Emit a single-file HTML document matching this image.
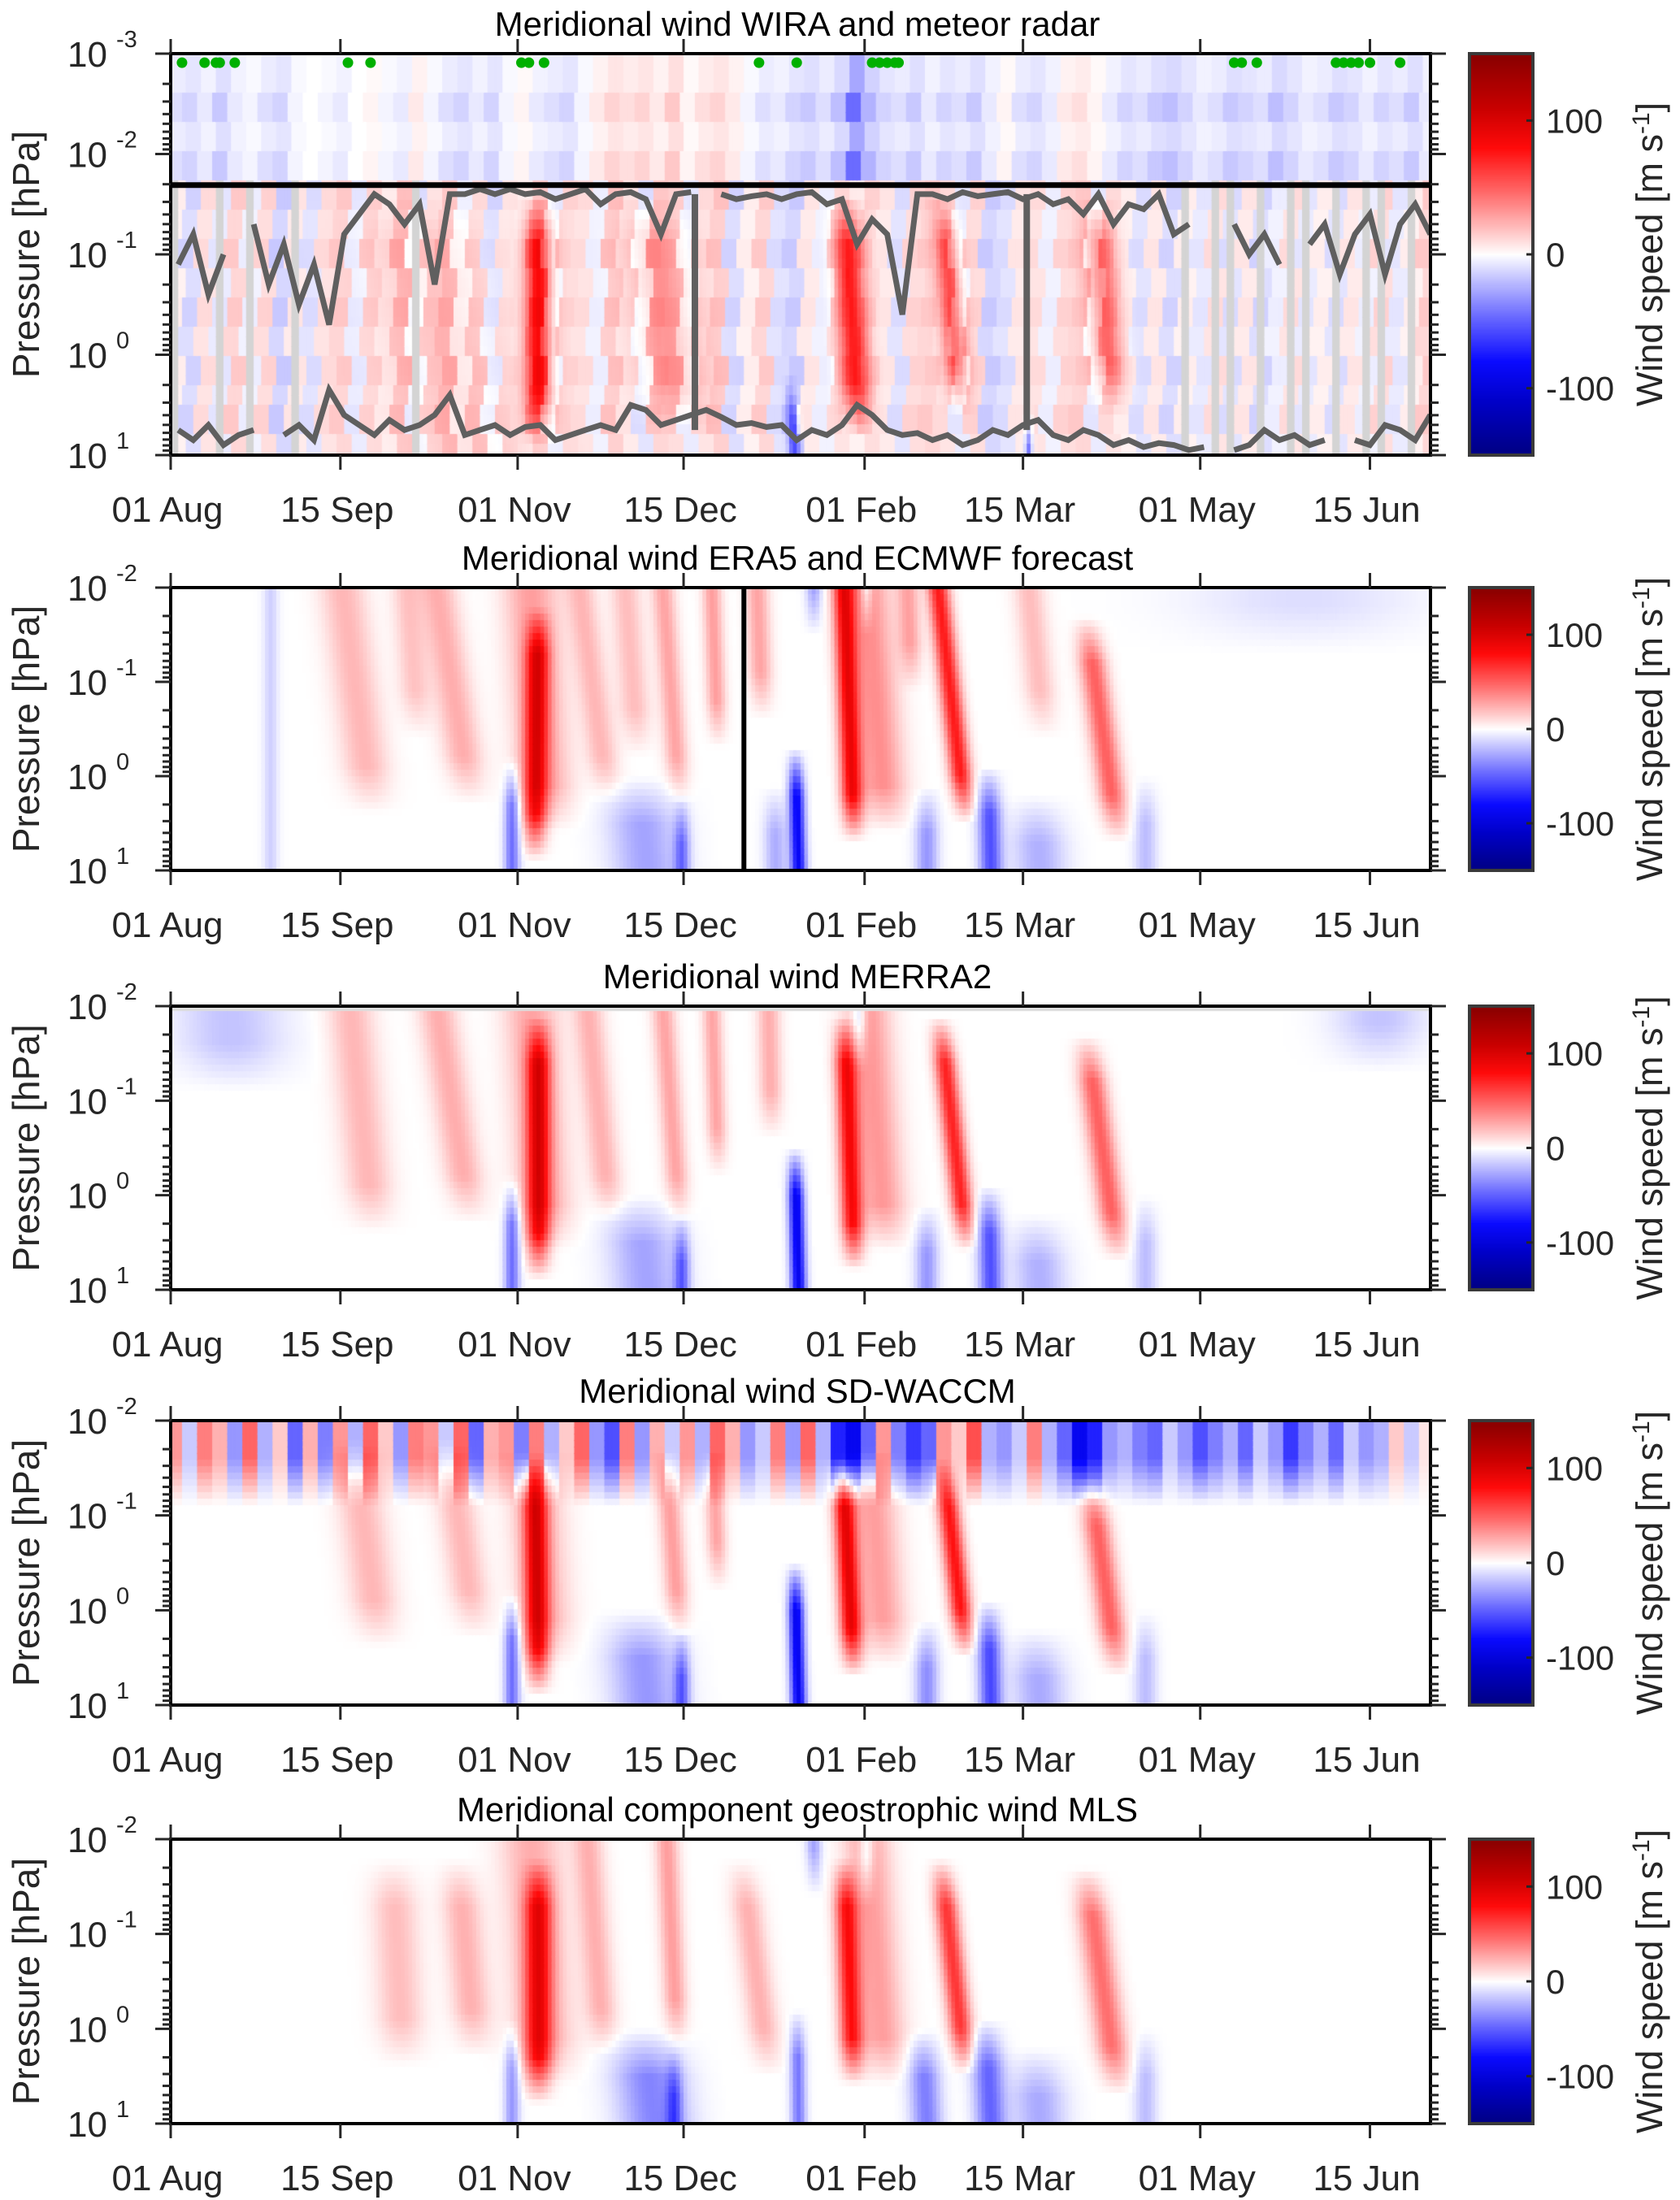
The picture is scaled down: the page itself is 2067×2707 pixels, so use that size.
<!DOCTYPE html>
<html><head><meta charset="utf-8">
<style>
html,body{margin:0;padding:0;background:#fff;}
body{width:2067px;height:2707px;position:relative;overflow:hidden;font-family:"Liberation Sans",Arial,sans-serif;}
canvas{position:absolute;}
svg{position:absolute;left:0;top:0;}
</style></head>
<body>
<canvas id="c0"></canvas>
<canvas id="c1"></canvas>
<canvas id="c2"></canvas>
<canvas id="c3"></canvas>
<canvas id="c4"></canvas>
<canvas id="cb0"></canvas>
<canvas id="cb1"></canvas>
<canvas id="cb2"></canvas>
<canvas id="cb3"></canvas>
<canvas id="cb4"></canvas>
<svg id="svg" width="2067" height="2707" xmlns="http://www.w3.org/2000/svg"></svg>
<script>
// ---- data ----
const panelTitles = ["Meridional wind WIRA and meteor radar","Meridional wind ERA5 and ECMWF forecast","Meridional wind MERRA2","Meridional wind SD-WACCM","Meridional component geostrophic wind MLS"];
const xTickLabels = ["01 Aug","15 Sep","01 Nov","15 Dec","01 Feb","15 Mar","01 May","15 Jun"];
const xTickDays = [0,45,92,136,184,226,273,318];
const cbarTicks = [100,0,-100];
// streaks: [dayAtTop(1e-2), dayAtBottom(1e1), amplitude m/s, halfwidth days, log10p top, log10p bottom]
const era5Streaks = [
 [97,96,75,3,-1.8,0.9],[95,100,30,7,-2,0.6],[178,181,85,2.8,-2,0.7],[184,190,35,6,-2,0.6],
 [203,212,75,2.8,-2,0.5],[241,252,50,3.5,-1.7,0.7],[45,55,22,6,-2,0.4],[70,82,25,5,-2,0.3],
 [62,68,18,4,-2,-0.4],[108,118,22,4,-2,0.3],[120,126,20,4,-2,-0.2],[130,136,28,3,-2,0.3],
 [143,146,30,2.5,-2,-0.3],[155,158,28,3,-2,-0.6],[195,198,28,3,-2,-0.9],[227,235,20,4,-2,-0.4],
 [90,90,-45,2,-0.2,1],[118,126,-28,9,0,1],[135,135,-40,2,0.2,1],[164,166,-85,2,-0.3,1],
 [159,160,-25,3,0.1,1],[200,200,-32,3,0.1,1],[215,217,-55,3,-0.1,1],[225,230,-24,7,0.2,1],
 [258,258,-20,3,0,1],[26,26,-14,2,-2,1],[170,170,-30,2,-2,-1.5],[184,184,-30,1.5,-2,-1.5],[300,300,-10,30,-2,-1.3]
];
const merraStreaks = [
 [97,97,78,3,-1.9,0.9],[95,100,28,7,-2,0.6],[178,181,80,2.8,-1.9,0.8],[184,190,32,6,-2,0.6],
 [203,212,72,2.8,-1.9,0.6],[241,252,50,3.5,-1.7,0.7],[47,55,22,6,-2,0.4],[70,82,25,5,-2,0.3],
 [110,118,24,4,-2,0.3],[130,136,28,3,-2,0.3],[143,146,28,2.5,-2,-0.2],[158,160,25,3,-2,-0.6],
 [90,90,-45,2,-0.2,1],[118,126,-28,9,0,1],[135,135,-45,2,0.2,1],[164,166,-90,2,-0.5,1],
 [200,200,-32,3,0.1,1],[215,217,-55,3,-0.1,1],[225,230,-24,7,0.2,1],[258,258,-20,3,0,1],
 [15,20,-18,14,-2,-1.1],[182,182,-32,2,-2,-1.3],[320,320,-18,12,-2,-1.3]
];
const waccmStreaks = [
 [96,97,82,3,-1.6,0.9],[95,100,25,7,-1.7,0.6],[177,181,90,2.8,-1.6,0.7],[184,190,30,6,-1.7,0.6],
 [203,212,78,2.8,-1.6,0.5],[241,252,50,3.5,-1.4,0.7],[47,57,22,6,-1.8,0.4],[72,83,22,5,-1.8,0.3],
 [130,136,30,3,-1.7,0.3],[143,146,28,2.5,-1.7,-0.2],
 [90,90,-45,2,-0.2,1],[118,126,-32,9,0,1],[135,135,-45,2,0.2,1],[164,166,-90,2,-0.5,1],
 [200,200,-35,3,0.1,1],[215,217,-58,3,-0.1,1],[225,230,-26,7,0.2,1],[258,258,-20,3,0,1]
];
const mlsStreaks = [
 [97,97,72,3.5,-1.8,0.8],[95,100,25,8,-2,0.6],[178,181,75,3,-1.8,0.6],[184,190,30,6,-2,0.6],
 [203,212,65,3,-1.8,0.5],[241,252,45,4,-1.7,0.7],[58,62,20,6,-1.8,0.4],[75,82,24,5,-1.8,0.3],
 [110,116,24,4,-2,0.3],[131,135,30,3,-2,0.2],[150,160,24,4,-1.8,0.5],
 [90,90,-32,2,-0.1,1],[118,128,-38,9,0,1],[133,133,-40,2,0.2,1],[165,166,-42,2,-0.2,1],
 [196,200,-40,4,0,1],[213,217,-48,4,-0.1,1],[225,230,-26,7,0.2,1],[258,258,-20,3,0,1],
 [170,172,-28,2,-2,-1.4],[184,184,-28,2,-2,-1.3]
];
const wiraStreaks = [
 [97,97,70,3.5,-1.6,0.9],[178,182,70,3.5,-1.6,0.8],[203,210,50,3,-1.6,0.6],[244,250,40,4,-1.6,0.6],
 [125,135,22,8,-1.6,0.8],[160,165,-45,1.5,0.2,1],[227,227,-55,1,0.5,1],[60,80,12,15,-1.6,1]
];
// 4-day blocks starting Aug 1
const wiraUpper = [-15,-20,-10,-25,-10,-5,-15,-20,-5,0,-5,-10,0,5,-5,-10,10,-5,-15,-20,-10,-20,-5,5,-10,-15,-20,-5,10,20,15,20,10,25,5,15,20,10,-5,-15,-10,-20,-25,-15,-30,-70,-35,-20,-15,-25,-10,-20,-15,-25,-10,5,-15,-20,-10,10,15,5,-10,-20,-15,-25,-30,-20,-10,-15,-25,-20,-15,-30,-20,-10,-15,-25,-20,-10,-20,-15,-25,-10];
const wiraLowNoise = [10,-25,20,-15,30,-10,25,-30,15,-20,20,30,-15,25,10,35,-20,15,30,-10,20,-25,15,10,30,-15,25,20,-10,35,15,-20,30,25,-15,20,35,-25,10,30,-20,-30,15,-10,20,10,25,15,-20,25,30,20,-15,25,-30,-20,15,20,-10,25,30,-15,20,10,-20,15,-25,10,-15,20,-20,15,-25,-10,20,-15,10,-20,15,-10,25,-15,10,30];
const wiraMissing = [1,0,0,1,0,1,0,0,1,0,0,0,0,0,0,0,1,0,0,0,0,0,0,0,0,0,0,0,0,0,0,0,0,0,0,0,0,0,0,0,0,0,0,0,0,0,0,0,0,0,0,0,0,0,0,0,0,0,0,0,0,0,0,0,0,0,0,1,0,1,1,0,1,0,1,1,0,1,0,1,1,0,1,0];
const wiraLineUpper = [-0.9,-1.2,-0.6,-1.0,null,-1.3,-0.7,-1.1,-0.5,-0.9,-0.3,-1.2,-1.4,-1.6,-1.5,-1.3,-1.5,-0.7,-1.6,-1.6,-1.65,-1.6,-1.65,-1.6,-1.62,-1.55,-1.6,-1.65,-1.5,-1.6,-1.62,-1.55,-1.2,-1.6,-1.62,null,-1.6,-1.55,-1.58,-1.6,-1.55,-1.6,-1.62,-1.5,-1.55,-1.1,-1.35,-1.2,-0.4,-1.6,-1.6,-1.55,-1.62,-1.58,-1.6,-1.62,-1.55,-1.6,-1.5,-1.55,-1.4,-1.6,-1.3,-1.5,-1.45,-1.6,-1.2,-1.3,null,null,-1.3,-1.0,-1.2,-0.9,null,-1.1,-1.3,-0.8,-1.2,-1.4,-0.8,-1.3,-1.5,-1.2];
const wiraLineLower = [0.75,0.85,0.7,0.9,0.8,0.75,null,0.8,0.7,0.85,0.35,0.6,0.7,0.8,0.65,0.75,0.7,0.6,0.4,0.8,0.75,0.7,0.8,0.72,0.7,0.85,0.8,0.75,0.7,0.75,0.5,0.55,0.7,0.65,0.6,0.55,0.62,0.7,0.68,0.72,0.7,0.85,0.75,0.8,0.7,0.5,0.6,0.75,0.8,0.78,0.85,0.8,0.9,0.85,0.75,0.8,0.7,0.65,0.8,0.85,0.75,0.8,0.9,0.85,0.92,0.88,0.9,0.95,0.92,null,0.95,0.9,0.75,0.85,0.8,0.9,0.85,null,0.85,0.9,0.7,0.75,0.85,0.6];
const wiraDropDays = [139,227];
const meteorDays = [3,9,12,13,17,47,53,93,95,99,156,166,186,188,190,192,193,282,284,288,309,311,313,315,318,326];
const waccmTopNoise = [40,-20,50,30,-40,60,-30,20,-60,30,-50,40,-30,60,20,-40,50,40,-20,60,-60,30,40,-50,50,-30,20,60,-40,-70,50,-40,30,-20,40,-30,60,30,-40,-20,50,-40,60,-30,-90,-110,-60,40,-50,-80,-60,40,20,70,-30,-40,-20,50,-30,-60,-110,-90,-40,-30,-50,-60,-20,-40,-70,-50,-30,-60,-20,-40,-80,-50,-30,-60,-20,-40,-30,20,-20,10];
const era5ForecastStartDay = 152;

// ---- layout ----
const X0=210, PXD=4.64, XR=1760;
const panels=[
 {top:66,bot:560,lpTop:-3,streaks:wiraStreaks,key:'wira'},
 {top:723,bot:1071,lpTop:-2,streaks:era5Streaks,key:'era5'},
 {top:1238,bot:1587,lpTop:-2,streaks:merraStreaks,key:'merra2'},
 {top:1748,bot:2098,lpTop:-2,streaks:waccmStreaks,key:'waccm'},
 {top:2263,bot:2613,lpTop:-2,streaks:mlsStreaks,key:'mls'}
];
const NDAYS=335;
function xScale(d){return X0+d*PXD;}
function yScale(p,lp){return p.top+(lp-p.lpTop)/(1-p.lpTop)*(p.bot-p.top);}
const stops=[[-150,0,0,130],[-110,0,0,200],[-80,10,10,255],[-45,110,110,255],[-15,205,205,255],[0,255,255,255],[15,255,205,205],[45,255,110,110],[80,255,10,10],[110,200,0,0],[150,135,0,0]];
function cmap(v){v=Math.max(-150,Math.min(150,v));for(let i=0;i<stops.length-1;i++){const a=stops[i],b=stops[i+1];if(v<=b[0]){const f=(v-a[0])/(b[0]-a[0]);return 'rgb('+Math.round(a[1]+f*(b[1]-a[1]))+','+Math.round(a[2]+f*(b[2]-a[2]))+','+Math.round(a[3]+f*(b[3]-a[3]))+')';}}return 'rgb(135,0,0)';}
function clamp(v){return Math.max(0,Math.min(1,v));}
function streakVal(list,t,lp){let v=0;for(const s of list){const dd=s[0]+(s[1]-s[0])*(lp+2)/3;const g=Math.exp(-Math.pow((t-dd)/s[3],2));if(g<0.01)continue;const e1=s[4]<=-1.99?1:clamp((lp-s[4])/0.5);const e2=s[5]>=0.99?1:clamp((s[5]-lp)/0.5);v+=s[2]*g*e1*e2;}return v;}
function blk(arr,t){const i=Math.max(0,Math.min(arr.length-1,Math.floor(t/4)));return arr[i];}

panels.forEach((p,pi)=>{
 const c=document.getElementById('c'+pi);
 const W=XR-X0, H=p.bot-p.top;
 c.width=W;c.height=H;c.style.left=X0+'px';c.style.top=p.top+'px';
 const ctx=c.getContext('2d');
 const rowH = pi===0?12:8;
 for(let d=0;d<NDAYS;d++){
  const x=d*PXD;
  for(let y=0;y<H;y+=rowH){
   const lp=p.lpTop+(y+rowH/2)/H*(1-p.lpTop);
   let v;
   if(pi===0){
     if(lp<-1.69){ v=0.55*blk(wiraUpper,d+((Math.floor(y/40))%2))*(0.7+0.5*((Math.floor(y/40)%2))); }
     else{
       if(blk(wiraMissing,d)===1 && (d%4)<2){ctx.fillStyle='#d4d4d4';ctx.fillRect(x,y,PXD+1,rowH+1);continue;}
       const ri=Math.floor((lp+1.7)/0.28);
       v=streakVal(p.streaks,d,lp)+0.5*blk(wiraLowNoise,d+(ri%3))*(ri%2?0.8:1.1);
     }
   } else {
     v=streakVal(p.streaks,d,lp);
     if(pi===3){const e=lp<-1.6?1:clamp((-1.1-lp)/0.5);v+=0.8*blk(waccmTopNoise,d+((d%2)?1:0))*e;}
   }
   ctx.fillStyle=cmap(v);
   ctx.fillRect(x,y,PXD+1,rowH+1);
  }
 }
 if(pi===2){ctx.fillStyle='#dcdcdc';ctx.fillRect(0,0,W,6);}
 const cb=document.getElementById('cb'+pi);
 cb.width=78;cb.height=H;cb.style.left='1808px';cb.style.top=p.top+'px';
 const cc=cb.getContext('2d');
 for(let y=0;y<H;y++){cc.fillStyle=cmap(150-300*y/H);cc.fillRect(0,y,78,1);}
});

// ---- SVG overlay ----
const svg=document.getElementById('svg');
const NS='http://www.w3.org/2000/svg';
function el(tag,attrs,parent){const e=document.createElementNS(NS,tag);for(const k in attrs)e.setAttribute(k,attrs[k]);(parent||svg).appendChild(e);return e;}
panels.forEach((p,pi)=>{
 const g=el('g',{});
 
 
 const t=el('text',{x:(X0+XR)/2-4,y:p.top-22,'font-size':42,'text-anchor':'middle',fill:'#000'},g);
 t.textContent=panelTitles[pi];
 
 
 if(pi===0){
  const yl=yScale(p,-1.69);
  const drawLine=(arr,name)=>{let d='';let pen=false;arr.forEach((v,i)=>{if(v===null){pen=false;return;}const x=xScale(i*4+2),y=yScale(p,v);d+=(pen?'L':'M')+x.toFixed(1)+' '+y.toFixed(1)+' ';pen=true;});
   const pth=el('path',{d:d,fill:'none',stroke:'#5f5f5f','stroke-width':7,'stroke-linejoin':'miter'},g);
   
   };
  drawLine(wiraLineUpper,'upper-altitude-line');
  drawLine(wiraLineLower,'lower-altitude-line');
  wiraDropDays.forEach(dd=>{const ln=el('line',{x1:xScale(dd),x2:xScale(dd),y1:yScale(p,-1.6),y2:yScale(p,0.75),stroke:'#5f5f5f','stroke-width':8},g);
   
   });
  const hl=el('line',{x1:X0,x2:XR,y1:yl,y2:yl,stroke:'#000','stroke-width':7},g);
  
  
  meteorDays.forEach(dd=>{const c=el('circle',{cx:xScale(dd),cy:yScale(p,-2.91),r:6.5,fill:'#00b000'},g);
   
   });
 }
 if(pi===1){
  const vl=el('line',{x1:xScale(era5ForecastStartDay),x2:xScale(era5ForecastStartDay),y1:p.top,y2:p.bot,stroke:'#000','stroke-width':6},g);
  
  
 }
 const box=el('rect',{x:X0,y:p.top,width:XR-X0,height:p.bot-p.top,fill:'none',stroke:'#000','stroke-width':4},g);
 
 
 for(let k=p.lpTop;k<=1;k++){
  const y=yScale(p,k);
  el('line',{x1:X0-19,x2:X0,y1:y,y2:y,stroke:'#262626','stroke-width':3},g);
  el('line',{x1:XR,x2:XR+19,y1:y,y2:y,stroke:'#262626','stroke-width':3},g);
  const tx=el('text',{x:132,y:y+16,'font-size':44,'text-anchor':'end',fill:'#262626'},g);
  tx.textContent='10';
  
  
  const ex=el('text',{x:143,y:y-8,'font-size':29,fill:'#262626'},g);
  ex.textContent=(k<0?'-':'')+Math.abs(k);
  if(k<1){for(let m=2;m<=9;m++){const ym=yScale(p,k+Math.log10(m));
   el('line',{x1:X0-10,x2:X0,y1:ym,y2:ym,stroke:'#262626','stroke-width':3},g);
   el('line',{x1:XR,x2:XR+10,y1:ym,y2:ym,stroke:'#262626','stroke-width':3},g);}}
 }
 xTickDays.forEach((dd,i)=>{
  const x=xScale(dd);
  el('line',{x1:x,x2:x,y1:p.top-18,y2:p.top,stroke:'#262626','stroke-width':3},g);
  el('line',{x1:x,x2:x,y1:p.bot,y2:p.bot+18,stroke:'#262626','stroke-width':3},g);
  const tx=el('text',{x:x-4,y:p.bot+82,'font-size':44,'text-anchor':'middle',fill:'#262626'},g);
  tx.textContent=xTickLabels[i];
  
  
 });
 const cy=(p.top+p.bot)/2;
 const yl=el('text',{x:0,y:0,'font-size':46,'text-anchor':'middle',fill:'#262626',transform:'translate(48,'+cy+') rotate(-90)'},g);
 yl.textContent='Pressure [hPa]';
 
 
 const cbf=el('rect',{x:1808,y:p.top,width:78,height:p.bot-p.top,fill:'none',stroke:'#3a3a3a','stroke-width':4},g);
 
 
 cbarTicks.forEach(v=>{
  const y=p.top+(150-v)/300*(p.bot-p.top);
  el('line',{x1:1878,x2:1886,y1:y,y2:y,stroke:'#262626','stroke-width':3},g);
  const tx=el('text',{x:1902,y:y+15,'font-size':42,fill:'#262626'},g);
  tx.textContent=String(v);
  
  
 });
 const cl=el('text',{x:0,y:0,'font-size':45,'text-anchor':'middle',fill:'#262626',transform:'translate(2045,'+cy+') rotate(-90)'},g);
 cl.innerHTML='Wind speed [m s<tspan dy="-16" font-size="30">-1</tspan><tspan dy="16">]</tspan>';
 
 
});
</script>
</body></html>
